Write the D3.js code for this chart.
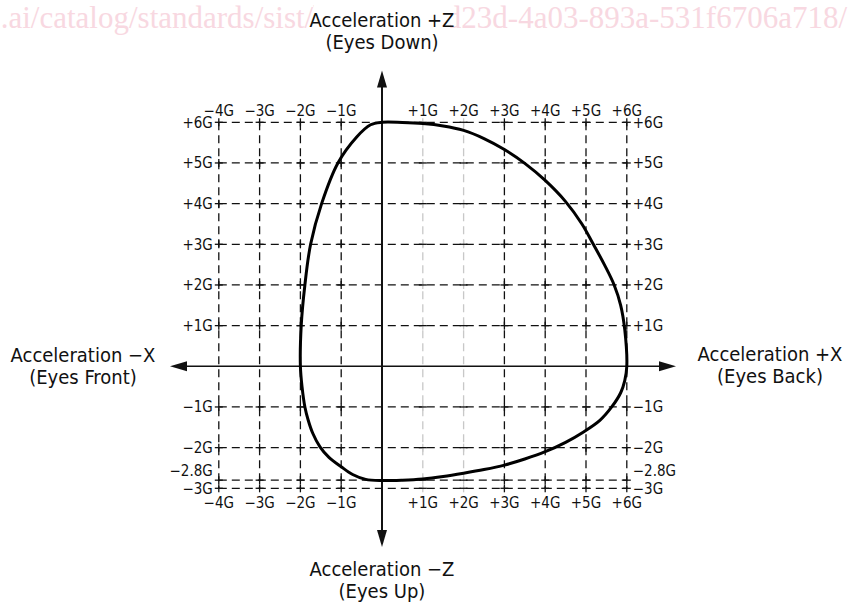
<!DOCTYPE html>
<html lang="en">
<head>
<meta charset="UTF-8">
<title>Acceleration envelope</title>
<script src="https://d3js.org/d3.v7.min.js"></script>
<style>
    body { margin: 0; padding: 0; background: #fff; }
    svg { display: block; }
    .lbl { font-family: "DejaVu Sans Condensed", "DejaVu Sans", sans-serif; fill: #111; }
    .axisTitle { font-size: 20px; }
    .tick { font-size: 15px; }
    .mark { font-family: "Liberation Serif", serif; font-size: 31px; fill: #f8d8e1; }
</style>
</head>
<body>
<div id="chart"></div>
<script>
    // grid values (G)
    const gridX = [-4, -3, -2, -1, 1, 2, 3, 4, 5, 6];
    const gridY = [6, 5, 4, 3, 2, 1, -1, -2, -2.8, -3];
    const lightX = [1, 2];

    // tick labels
    const xTickLabels = ["\u22124G", "\u22123G", "\u22122G", "\u22121G", "+1G", "+2G", "+3G", "+4G", "+5G", "+6G"];
    const yTickLabels = ["+6G", "+5G", "+4G", "+3G", "+2G", "+1G", "\u22121G", "\u22122G", "\u22122.8G", "\u22123G"];

    // envelope outline, clockwise from the top
    const envX = [0, 0.5, 1.0, 1.5, 2.0, 2.5, 3.0, 3.5, 4.0, 4.5, 4.9, 5.18, 5.45, 5.69, 5.85, 5.95, 6.0, 5.95, 5.85, 5.63, 5.34, 4.93, 4.5, 4.0, 3.5, 3.0, 2.5, 2.0, 1.5, 1.0, 0.5, 0, -0.4, -0.72, -1.0, -1.3, -1.52, -1.7, -1.81, -1.89, -1.96, -2.0, -1.98, -1.89, -1.75, -1.48, -1.08, -0.62, -0.28];
    const envY = [6.0, 5.995, 5.97, 5.91, 5.8, 5.6, 5.33, 4.99, 4.57, 4.05, 3.5, 3.0, 2.5, 2.0, 1.5, 0.9, 0, -0.35, -0.65, -1.0, -1.33, -1.62, -1.87, -2.1, -2.28, -2.43, -2.54, -2.63, -2.71, -2.77, -2.8, -2.81, -2.78, -2.66, -2.47, -2.24, -1.98, -1.64, -1.32, -1.0, -0.5, 0, 1.0, 2.0, 3.0, 4.0, 5.0, 5.64, 5.94];

    const titles = [
        { lines: ["Acceleration +Z", "(Eyes Down)"], x: 382, y: 27 },
        { lines: ["Acceleration \u2212Z", "(Eyes Up)"], x: 382, y: 576 },
        { lines: ["Acceleration \u2212X", "(Eyes Front)"], x: 83, y: 362 },
        { lines: ["Acceleration +X", "(Eyes Back)"], x: 770, y: 361 }
    ];

    const width = 848, height = 606;

    const svg = d3.select("#chart").append("svg")
        .attr("width", width)
        .attr("height", height);

    const x = d3.scaleLinear().domain([-4, 6]).range([218.8, 626.8]);
    const y = d3.scaleLinear().domain([-3, 6]).range([488.3, 122.3]);

    // watermark
    svg.append("text")
        .attr("class", "mark")
        .attr("x", 847)
        .attr("y", 28)
        .attr("text-anchor", "end")
        .text(".ai/catalog/standards/sist/b6a76609-d23d-4a03-893a-531f6706a718/");

    svg.append("rect")
        .attr("x", 314).attr("y", 3)
        .attr("width", 136).attr("height", 30)
        .attr("fill", "#fff");

    // dashed grid
    const grid = svg.append("g").attr("fill", "none").attr("stroke-width", 1.3);

    grid.selectAll(".gx")
        .data(gridX)
        .enter()
        .append("line")
        .attr("x1", d => x(d)).attr("x2", d => x(d))
        .attr("y1", y(6)).attr("y2", y(-3))
        .attr("stroke", d => lightX.includes(d) ? "#c8c8c8" : "#111")
        .attr("stroke-dasharray", "8,5");

    grid.selectAll(".gy")
        .data(gridY)
        .enter()
        .append("line")
        .attr("x1", x(-4)).attr("x2", x(6))
        .attr("y1", d => y(d)).attr("y2", d => y(d))
        .attr("stroke", "#111")
        .attr("stroke-dasharray", "8,5");

    // small crosses at the intersections
    gridX.forEach(gx => {
        gridY.forEach(gy => {
            const cx = x(gx), cy = y(gy);
            grid.append("line")
                .attr("x1", cx).attr("x2", cx)
                .attr("y1", cy - 4).attr("y2", cy + 4)
                .attr("stroke", lightX.includes(gx) ? "#c8c8c8" : "#111");
            grid.append("line")
                .attr("x1", cx - 4).attr("x2", cx + 4)
                .attr("y1", cy).attr("y2", cy)
                .attr("stroke", "#111");
        });
    });

    // axes with arrows
    const ax = svg.append("g");
    const x0 = x(0), y0 = y(0);
    const tipTop = 70.5, tipBottom = 547, tipLeft = 170, tipRight = 676;

    ax.append("line").attr("x1", tipLeft + 10).attr("x2", tipRight - 10).attr("y1", y0).attr("y2", y0)
        .attr("stroke", "#111").attr("stroke-width", 1.6);
    ax.append("line").attr("x1", x0).attr("x2", x0).attr("y1", tipTop + 10).attr("y2", tipBottom - 10)
        .attr("stroke", "#111").attr("stroke-width", 2);

    const arrows = [
        `M${x0},${tipTop} L${x0 - 5},${tipTop + 17} L${x0 + 5},${tipTop + 17} Z`,
        `M${x0},${tipBottom} L${x0 - 5},${tipBottom - 17} L${x0 + 5},${tipBottom - 17} Z`,
        `M${tipLeft},${y0} L${tipLeft + 17},${y0 - 5} L${tipLeft + 17},${y0 + 5} Z`,
        `M${tipRight},${y0} L${tipRight - 17},${y0 - 5} L${tipRight - 17},${y0 + 5} Z`
    ];
    ax.selectAll("path").data(arrows).enter().append("path")
        .attr("d", d => d).attr("fill", "#111");

    // envelope
    const pts = envX.map((v, i) => [x(v), y(envY[i])]);
    svg.append("path")
        .datum(pts)
        .attr("d", d3.line().curve(d3.curveCatmullRomClosed.alpha(0.5)))
        .attr("fill", "none")
        .attr("stroke", "#000")
        .attr("stroke-width", 3);

    // tick labels
    const tl = svg.append("g").attr("class", "lbl tick");
    gridX.forEach((v, i) => {
        tl.append("text").attr("x", x(v)).attr("y", y(6) - 6)
            .attr("text-anchor", "middle").text(xTickLabels[i]);
        tl.append("text").attr("x", x(v)).attr("y", y(-3) + 20)
            .attr("text-anchor", "middle").text(xTickLabels[i]);
    });
    gridY.forEach((v, i) => {
        const off = v === -2.8 ? -9 : 0;
        tl.append("text").attr("x", x(-4) - 6).attr("y", y(v) + off).attr("dy", "0.35em")
            .attr("text-anchor", "end").text(yTickLabels[i]);
        tl.append("text").attr("x", x(6) + 6).attr("y", y(v) + off).attr("dy", "0.35em")
            .attr("text-anchor", "start").text(yTickLabels[i]);
    });

    // axis titles
    titles.forEach(t => {
        const txt = svg.append("text").attr("class", "lbl axisTitle")
            .attr("text-anchor", "middle");
        t.lines.forEach((s, i) => {
            txt.append("tspan").attr("x", t.x).attr("y", t.y + i * 22).text(s);
        });
    });
</script>
</body>
</html>
